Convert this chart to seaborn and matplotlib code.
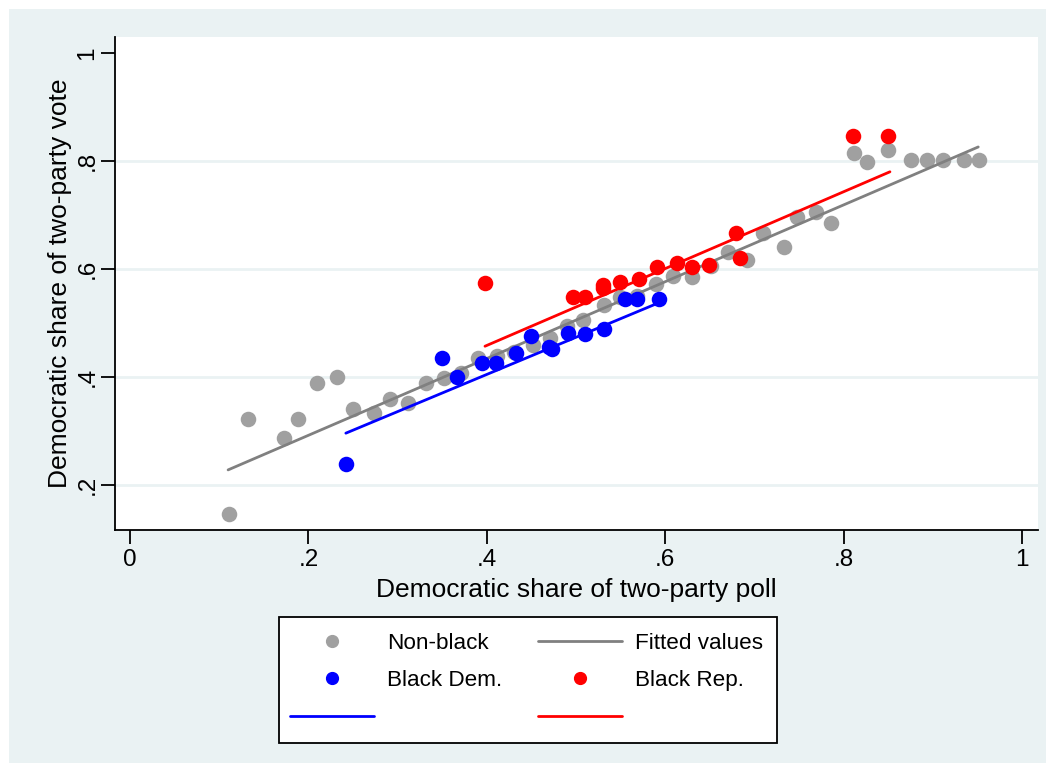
"""
Poll share vs vote share, Stata-style scatter with fitted lines
"""

import numpy as np
import pandas as pd
import matplotlib
matplotlib.use('Agg')
import matplotlib.pyplot as plt
from matplotlib.lines import Line2D
from matplotlib.patches import Rectangle
import seaborn as sns

sns.set_style("white")
plt.rcParams['font.family'] = ['Liberation Sans', 'DejaVu Sans']
plt.rcParams['text.color'] = 'black'
plt.rcParams['axes.labelcolor'] = 'black'

# Non-black candidates
nonblack_poll = [0.111, 0.132, 0.173, 0.188, 0.210, 0.232, 0.250, 0.274, 0.291, 0.312,
                 0.332, 0.352, 0.371, 0.390, 0.411, 0.430, 0.452, 0.471, 0.490, 0.508,
                 0.531, 0.549, 0.568, 0.590, 0.609, 0.630, 0.651, 0.670, 0.692, 0.710,
                 0.733, 0.748, 0.769, 0.786, 0.812, 0.826, 0.850, 0.876, 0.894, 0.911,
                 0.935, 0.952]
nonblack_vote = [0.146, 0.322, 0.287, 0.322, 0.389, 0.400, 0.341, 0.333, 0.359, 0.352,
                 0.389, 0.399, 0.408, 0.435, 0.439, 0.447, 0.459, 0.473, 0.494, 0.506,
                 0.533, 0.548, 0.550, 0.572, 0.587, 0.585, 0.605, 0.632, 0.617, 0.667,
                 0.640, 0.696, 0.705, 0.685, 0.815, 0.798, 0.820, 0.802, 0.802, 0.802,
                 0.802, 0.802]

# Black Democrats
blackdem_poll = [0.242, 0.350, 0.367, 0.395, 0.410, 0.433, 0.450, 0.470, 0.473, 0.491,
                 0.510, 0.531, 0.555, 0.568, 0.593]
blackdem_vote = [0.239, 0.435, 0.400, 0.426, 0.426, 0.444, 0.476, 0.456, 0.452, 0.482,
                 0.480, 0.489, 0.544, 0.544, 0.544]

# Black Republicans
blackrep_poll = [0.398, 0.497, 0.510, 0.530, 0.530, 0.549, 0.571, 0.591, 0.613, 0.630,
                 0.649, 0.679, 0.684, 0.811, 0.850]
blackrep_vote = [0.574, 0.548, 0.548, 0.570, 0.565, 0.576, 0.581, 0.604, 0.611, 0.604,
                 0.607, 0.667, 0.620, 0.846, 0.846]

# Fitted values (pooled model), read at the ends of each group's range
fit_nonblack_poll = [0.110, 0.951]
fit_nonblack_vote = [0.228, 0.826]
fit_blackdem_poll = [0.242, 0.598]
fit_blackdem_vote = [0.296, 0.541]
fit_blackrep_poll = [0.398, 0.852]
fit_blackrep_vote = [0.457, 0.780]

xticks = [0, 0.2, 0.4, 0.6, 0.8, 1]
xtick_labels = ['0', '.2', '.4', '.6', '.8', '1']
yticks = [0.2, 0.4, 0.6, 0.8, 1]
ytick_labels = ['.2', '.4', '.6', '.8', '1']

GRAY_PT = '#A0A0A0'
GRAY_LN = '#808080'
BLUE = '#0000FF'
RED = '#FF0000'
BG = '#EAF2F3'

nb = pd.DataFrame({'poll': nonblack_poll, 'vote': nonblack_vote})
bd = pd.DataFrame({'poll': blackdem_poll, 'vote': blackdem_vote})
br = pd.DataFrame({'poll': blackrep_poll, 'vote': blackrep_vote})

W, H = 1055, 771
fig = plt.figure(figsize=(W / 100, H / 100), dpi=100)
fig.patch.set_facecolor('white')
fig.add_artist(Rectangle((9 / W, 8 / H), (W - 18) / W, (H - 17) / H,
                         transform=fig.transFigure, facecolor=BG,
                         edgecolor='none', zorder=-10))

ax = fig.add_axes([115 / W, 1 - 530 / H, (1038 - 115) / W, (530 - 37) / H])
ax.set_facecolor('white')

for v in [0.2, 0.4, 0.6, 0.8]:
    ax.axhline(v, color=BG, lw=2, zorder=0)

ms = 125
sns.scatterplot(data=nb, x='poll', y='vote', color=GRAY_PT, s=ms, linewidth=0,
                ax=ax, zorder=2)
sns.lineplot(x=fit_nonblack_poll, y=fit_nonblack_vote, color=GRAY_LN, lw=2,
             ax=ax, zorder=3)
sns.scatterplot(data=bd, x='poll', y='vote', color=BLUE, s=ms, linewidth=0,
                ax=ax, zorder=4)
sns.scatterplot(data=br, x='poll', y='vote', color=RED, s=ms, linewidth=0,
                ax=ax, zorder=4)
sns.lineplot(x=fit_blackdem_poll, y=fit_blackdem_vote, color=BLUE, lw=2,
             ax=ax, zorder=5)
sns.lineplot(x=fit_blackrep_poll, y=fit_blackrep_vote, color=RED, lw=2,
             ax=ax, zorder=5)

ax.set_xlim(-0.0168, 1.018)
ax.set_ylim(0.1167, 1.0296)
ax.set_xticks(xticks)
ax.set_xticklabels(xtick_labels)
ax.set_yticks(yticks)
ax.set_yticklabels(ytick_labels, rotation=90, va='center')
ax.tick_params(axis='both', direction='out', length=10, width=1.3,
               labelsize=17.5, colors='black', left=True, bottom=True)
ax.tick_params(axis='x', pad=4)
ax.tick_params(axis='y', pad=2)

for side in ['top', 'right']:
    ax.spines[side].set_visible(False)
for side in ['left', 'bottom']:
    ax.spines[side].set_color('black')
    ax.spines[side].set_linewidth(1.3)

ax.set_xlabel('Democratic share of two-party poll', fontsize=19, labelpad=5)
ax.set_ylabel('Democratic share of two-party vote', fontsize=19, labelpad=3)

# Legend box drawn by hand, Stata style
fig.add_artist(Rectangle((279 / W, 1 - 743 / H), (777 - 279) / W, (743 - 617) / H,
                         transform=fig.transFigure, facecolor='white',
                         edgecolor='black', lw=1.3, zorder=1))

# Legend, Stata order (column-major for ncol=2)
h_nb = Line2D([], [], ls='none', marker='o', ms=8.5, color=GRAY_PT)
h_bd = Line2D([], [], ls='none', marker='o', ms=8.5, color=BLUE)
h_bl = Line2D([], [], color=BLUE, lw=2)
h_fit = Line2D([], [], color=GRAY_LN, lw=2)
h_br = Line2D([], [], ls='none', marker='o', ms=8.5, color=RED)
h_rl = Line2D([], [], color=RED, lw=2)
leg = fig.legend([h_nb, h_bd, h_bl, h_fit, h_br, h_rl],
                 ['Non-black', 'Black Dem.', '', 'Fitted values', 'Black Rep.', ''],
                 ncol=2, loc='upper left', bbox_to_anchor=(290 / W, 1 - 633 / H),
                 bbox_transform=fig.transFigure, fontsize=16.2, frameon=False,
                 handlelength=3.73, handletextpad=0.58, columnspacing=1.6,
                 labelspacing=0.72, borderpad=0, borderaxespad=0)
leg.set_zorder(2)

plt.savefig('out.png', dpi=100, facecolor=fig.get_facecolor())
